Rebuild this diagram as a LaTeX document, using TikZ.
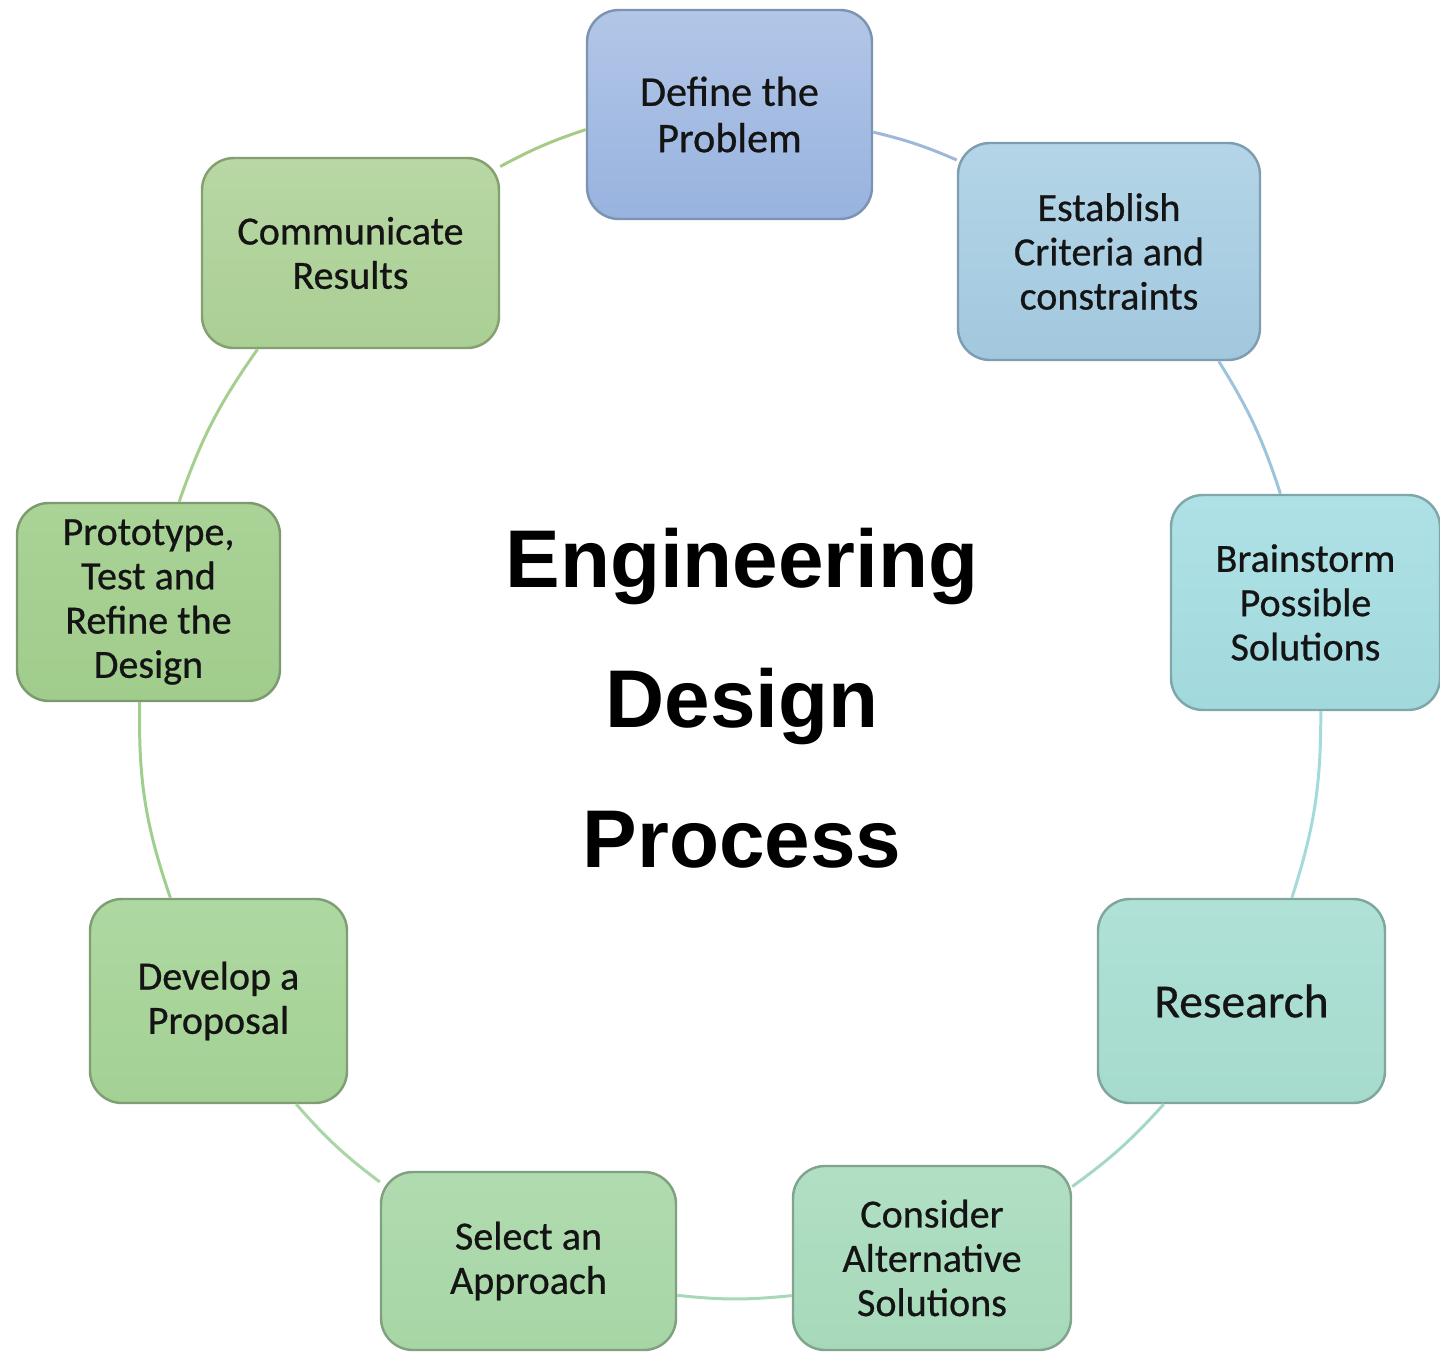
\documentclass[tikz,border=0pt]{standalone}
\usepackage{fontspec}
\setmainfont{Carlito}
\newfontfamily\boxfont{Carlito}[FakeBold=0.6]
\newfontfamily\titlefont{Liberation Sans}
\definecolor{txt}{HTML}{141414}
\definecolor{defT}{HTML}{B2C6E7}\definecolor{defB}{HTML}{98B3DF}\definecolor{defD}{HTML}{7D93B2}
\definecolor{estT}{HTML}{B4D5E7}\definecolor{estB}{HTML}{A2C8DE}\definecolor{estD}{HTML}{7F9DB0}
\definecolor{braT}{HTML}{AEE1E5}\definecolor{braB}{HTML}{A2D9DD}\definecolor{braD}{HTML}{7FA6A8}
\definecolor{resT}{HTML}{B0E1D7}\definecolor{resB}{HTML}{A5DBCD}\definecolor{resD}{HTML}{7FA69D}
\definecolor{conT}{HTML}{B1DFC5}\definecolor{conB}{HTML}{A6D9B9}\definecolor{conD}{HTML}{80A48D}
\definecolor{selT}{HTML}{B0DBB0}\definecolor{selB}{HTML}{A7D6A5}\definecolor{selD}{HTML}{80A080}
\definecolor{devT}{HTML}{AED8A1}\definecolor{devB}{HTML}{A3D194}\definecolor{devD}{HTML}{7F9E75}
\definecolor{proT}{HTML}{AAD397}\definecolor{proB}{HTML}{A0CC8C}\definecolor{proD}{HTML}{7C9A6E}
\definecolor{comT}{HTML}{B8D7A4}\definecolor{comB}{HTML}{AACF94}\definecolor{comD}{HTML}{84A070}
\definecolor{l1}{HTML}{A6CB85}\definecolor{l2}{HTML}{A0B8D8}\definecolor{l3}{HTML}{9CC4DC}
\definecolor{l4}{HTML}{A5DADA}\definecolor{l5}{HTML}{A3D8C4}\definecolor{l6}{HTML}{A8D8B8}
\definecolor{l7}{HTML}{A9D5A7}\definecolor{l8}{HTML}{9FCF8E}\definecolor{l9}{HTML}{A5CF8F}
\begin{document}
\begin{tikzpicture}[
  pbox/.style n args={5}{rectangle, rounded corners=0.32cm, line width=0.7pt,
    draw=#3, top color=#1, bottom color=#2, minimum width=#4 cm, minimum height=#5 cm,
    inner sep=0pt, align=center, text=txt, font=\boxfont\fontsize{11.4}{12.6}\selectfont},
  link/.style={line width=0.85pt, draw=#1}
]
\useasboundingbox (0,0) rectangle (14.4,13.53);

\node[pbox={defT}{defB}{defD}{2.85}{2.09}, font=\boxfont\fontsize{12}{13.2}\selectfont] (def) at (7.295,12.385) {Define the\\Problem};
\node[pbox={estT}{estB}{estD}{3.02}{2.17}] (est) at (11.09,11.015) {Establish\\Criteria and\\constraints};
\node[pbox={braT}{braB}{braD}{2.69}{2.15}] (bra) at (13.055,7.505) {Brainstorm\\Possible\\Solutions};
\node[pbox={resT}{resB}{resD}{2.87}{2.04}, font=\boxfont\fontsize{13.5}{15}\selectfont] (res) at (12.415,3.52) {Research};
\node[pbox={conT}{conB}{conD}{2.78}{1.84}] (con) at (9.32,0.95) {Consider\\Alternative\\Solutions};
\node[pbox={selT}{selB}{selD}{2.95}{1.78}] (sel) at (5.285,0.92) {Select an\\Approach};
\node[pbox={devT}{devB}{devD}{2.57}{2.04}] (dev) at (2.185,3.52) {Develop a\\Proposal};
\node[pbox={proT}{proB}{proD}{2.63}{1.98}] (pro) at (1.485,7.51) {Prototype,\\Test and\\Refine the\\Design};
\node[pbox={comT}{comB}{comD}{2.97}{1.90}] (com) at (3.505,11.0) {Communicate\\Results};

\node[font=\titlefont\bfseries\fontsize{23.3}{39.8}\selectfont, align=center, text=black, inner sep=0pt] (title) at (7.42,6.55) {Engineering\\Design\\Process};

\draw[link=l1] (com.30) to[bend left=5] (def.186);
\draw[link=l2] (def.-7) to[bend left=5] (est.149);
\draw[link=l3] (est.-45.7) to[bend left=7] (bra.103);
\draw[link=l4] (bra.-82) to[bend left=9] (res.64.6);
\draw[link=l5] (res.233) to[bend left=6] (con.27.7);
\draw[link=l6] (con.195) to[bend left=6] (sel.-13);
\draw[link=l7] (sel.152) to[bend left=6] (dev.-53);
\draw[link=l8] (dev.115.4) to[bend left=10] (pro.265);
\draw[link=l9] (pro.73.4) to[bend left=8] (com.226.4);
\end{tikzpicture}
\end{document}
